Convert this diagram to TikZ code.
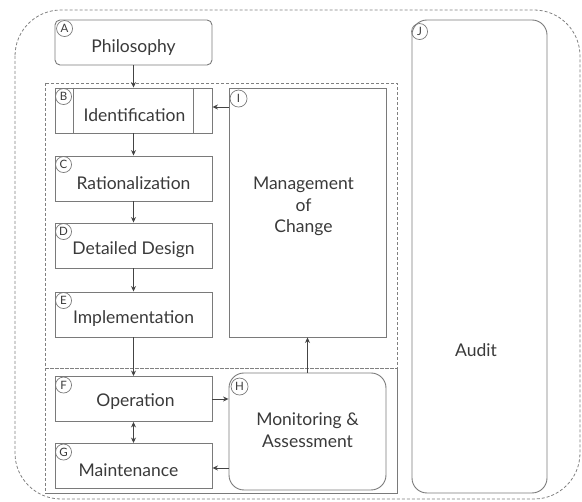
\documentclass[tikz,border=0pt]{standalone}
\usepackage{fontspec}
\setmainfont{Lato}
\usetikzlibrary{arrows.meta}
\definecolor{boxgray}{HTML}{7A7A7A}
\definecolor{txtgray}{HTML}{3A3A3A}
\definecolor{arrgray}{HTML}{444444}
\definecolor{dashgray}{HTML}{808080}
\begin{document}
\begin{tikzpicture}[x=1pt,y=-1pt,
 box/.style={draw=boxgray, line width=0.9pt, minimum width=157pt, minimum height=45pt, inner sep=0pt},
 txt/.style={font=\fontsize{17.5}{21.5}\selectfont, text=txtgray, align=center, inner sep=0pt},
 tag/.style={draw=boxgray, circle, line width=0.7pt, minimum size=16pt, inner sep=0pt, font=\fontsize{11.5}{11.5}\selectfont, text=txtgray},
 arr/.style={draw=arrgray, line width=0.9pt, -{Stealth[length=5.5pt,width=5pt]}},
 dasharea/.style={draw=dashgray, line width=0.8pt, dash pattern=on 3pt off 2pt},
]
\useasboundingbox (0,0) rectangle (582,502);
% outer dashed region
\draw[dasharea, rounded corners=46pt] (15,10) rectangle (580,499);
% inner dashed regions
\draw[dasharea] (45,83) rectangle (397,368);
\draw[dasharea] (45,368) rectangle (397,493);
\draw[draw=boxgray, line width=0.6pt] (397,368) -- (397,493) -- (45,493);

% boxes
\node[box, rounded corners=5pt] (A) at (133.5,42.5) {};
\node[box] (B) at (133.5,110.5) {};
\node[box] (C) at (133.5,178.5) {};
\node[box] (D) at (133.5,245.5) {};
\node[box] (E) at (133.5,314.5) {};
\node[box] (F) at (133.5,399) {};
\node[box] (G) at (133.5,466) {};
\node[box, minimum height=249pt] (I) at (307.5,212.5) {};
\node[box, minimum height=117pt, rounded corners=15pt] (H) at (307.5,431.5) {};
\node[box, minimum width=135pt, minimum height=473pt, rounded corners=15pt] (J) at (479.5,256.5) {};

% predefined-process bars of B
\draw[draw=boxgray, line width=0.9pt] ([xshift=19pt]B.north west) -- ([xshift=19pt]B.south west);
\draw[draw=boxgray, line width=0.9pt] ([xshift=-19pt]B.north east) -- ([xshift=-19pt]B.south east);

% texts
\node[txt] (At) at ([yshift=-5pt]A.center) {Philosophy};
\node[txt] (Bt) at ([xshift=1pt,yshift=-4.5pt]B.center) {Identification};
\node[txt] (Ct) at ([yshift=-4.5pt]C.center) {Rationalization};
\node[txt] (Dt) at ([yshift=-4.5pt]D.center) {Detailed Design};
\node[txt] (Et) at ([yshift=-4.5pt]E.center) {Implementation};
\node[txt] (Ft) at ([xshift=2pt,yshift=-3pt]F.center) {Operation};
\node[txt] (Gt) at ([xshift=-5pt,yshift=-4.5pt]G.center) {Maintenance};
\node[txt] (It) at ([xshift=-4pt,yshift=6pt]I.center) {Management\\of\\Change};
\node[txt] (Ht) at ([yshift=1.5pt]H.center) {Monitoring \&\\Assessment};
\node[txt] (Jt) at (476,350) {Audit};

% letter tags
\node[tag] (tA) at ([shift={(10pt,-9pt)}]A.north west) {A};
\node[tag] (tB) at ([shift={(9pt,-9pt)}]B.north west) {B};
\node[tag] (tC) at ([shift={(9pt,-9pt)}]C.north west) {C};
\node[tag] (tD) at ([shift={(9pt,-9pt)}]D.north west) {D};
\node[tag] (tE) at ([shift={(9pt,-9pt)}]E.north west) {E};
\node[tag] (tF) at ([shift={(9pt,-9pt)}]F.north west) {F};
\node[tag] (tG) at ([shift={(9pt,-9pt)}]G.north west) {G};
\node[tag, minimum size=17pt] (tI) at ([shift={(10pt,-11pt)}]I.north west) {I};
\node[tag, minimum size=17pt] (tH) at ([shift={(11pt,-14pt)}]H.north west) {H};
\node[tag] (tJ) at ([shift={(8pt,-12pt)}]J.north west) {J};

% connectors
\draw[arr] (A.south) -- (B.north);
\draw[arr] (B.south) -- (C.north);
\draw[arr] (C.south) -- (D.north);
\draw[arr] (D.south) -- (E.north);
\draw[arr] (E.south) -- (F.north);
\draw[arr, {Stealth[length=5.5pt,width=5pt]}-{Stealth[length=5.5pt,width=5pt]}] (F.south) -- (G.north);
\draw[arr] (F.east) -- (F.east -| H.west);
\draw[arr] ([yshift=-2pt]G.east -| H.west) -- ([yshift=-2pt]G.east);
\draw[arr] ([yshift=3.5pt]B.east -| I.west) -- ([yshift=3.5pt]B.east);
\draw[arr] (H.north) -- (I.south);
\end{tikzpicture}
\end{document}
